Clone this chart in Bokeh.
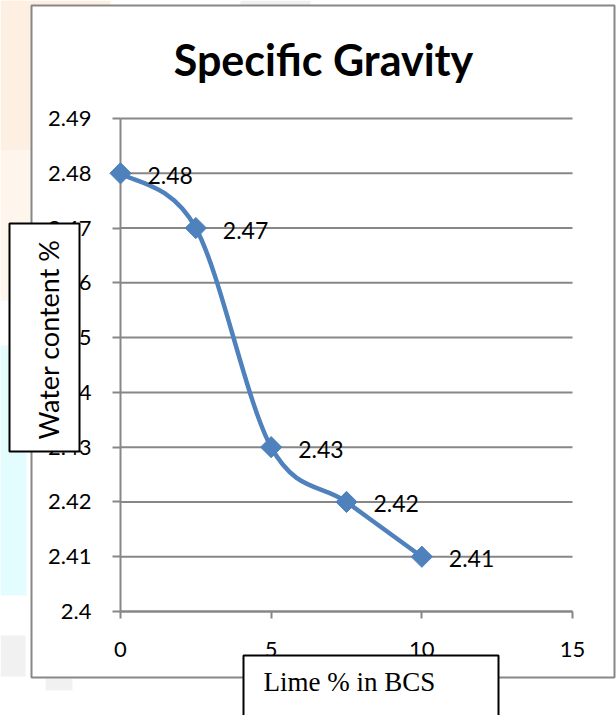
import numpy as np
from bokeh.plotting import figure
from bokeh.models import BoxAnnotation, Label, FixedTicker, Range1d, LinearAxis
from bokeh.core.properties import value
from bokeh.embed import file_html
from bokeh.resources import INLINE

# ---- data ----
lime_pct = [0, 2.5, 5, 7.5, 10]
specific_gravity = [2.48, 2.47, 2.43, 2.42, 2.41]

x_ticks = [0, 5, 10, 15]
y_ticks = [2.40, 2.41, 2.42, 2.43, 2.44, 2.45, 2.46, 2.47, 2.48, 2.49]
y_tick_labels = ["2.4", "2.41", "2.42", "2.43", "2.44", "2.45", "2.46", "2.47", "2.48", "2.49"]

title_text = "Specific Gravity"
y_label_text = "Water content %"
x_label_text = "Lime % in BCS"

# ---- layout (canvas pixels) ----
W, H = 616, 715
PL, PR, PT, PB = 120, 572, 118, 611   # pixel extent of the plotting area
BLUE = "#4F81BD"
GRID = "#878787"

x_lo, x_hi = x_ticks[0], x_ticks[-1]
y_lo, y_hi = y_ticks[0], y_ticks[-1]
kx = (x_hi - x_lo) / (PR - PL)
ky = (y_hi - y_lo) / (PB - PT)

# the frame spans the whole canvas so that titles and boxes outside the
# plotting area are not clipped
x_range = Range1d(x_lo - PL * kx, x_hi + (W - PR) * kx)
y_range = Range1d(y_lo - (H - PB) * ky, y_hi + PT * ky)


def sx(px):
    return px


def sy(py):
    return H - py


def box(l, t, r, b, **kw):
    return BoxAnnotation(left=sx(l), right=sx(r), top=sy(t), bottom=sy(b),
                         left_units="screen", right_units="screen",
                         top_units="screen", bottom_units="screen", **kw)


p = figure(width=W, height=H, x_range=x_range, y_range=y_range,
           output_backend="svg", toolbar_location=None,
           x_axis_location=None, y_axis_location=None,
           min_border=0, min_border_left=0, min_border_right=0,
           min_border_top=0, min_border_bottom=0)
p.outline_line_color = None
p.background_fill_color = "white"
p.border_fill_color = "white"
p.grid.visible = False

# faint background tints around the chart
for (l, t, r, b, c) in [
    (0, 0, 31, 150, "#fdf0e3"),
    (0, 150, 31, 300, "#fef5ec"),
    (0, 0, 110, 5, "#fdf0e3"),
    (240, 0, 310, 5, "#f0f0f0"),
    (0, 345, 26, 595, "#e3fcfe"),
    (0, 635, 25, 676, "#f1f1f1"),
    (45, 678, 72, 690, "#f1f1f1"),
]:
    p.add_layout(box(l, t, r, b, fill_color=c, fill_alpha=1, line_color=None, level="image"))

# chart area with gray border
p.add_layout(box(31, 5, 614, 677, fill_color="white", fill_alpha=1,
                 line_color=GRID, line_alpha=1, line_width=2, level="image"))

# ---- horizontal gridlines ----
p.segment(x0=[x_lo] * len(y_ticks), x1=[x_hi] * len(y_ticks), y0=y_ticks, y1=y_ticks,
          line_color=GRID, line_width=2)

# ---- axes ----
yaxis = LinearAxis(fixed_location=x_lo, bounds=(y_lo, y_hi),
                   ticker=FixedTicker(ticks=y_ticks),
                   major_label_overrides=dict(zip(y_ticks, y_tick_labels)))
xaxis = LinearAxis(fixed_location=y_lo, bounds=(x_lo, x_hi),
                   ticker=FixedTicker(ticks=x_ticks))
for ax in (xaxis, yaxis):
    ax.level = "underlay"
    ax.axis_line_color = GRID
    ax.axis_line_width = 2
    ax.major_tick_line_color = GRID
    ax.major_tick_line_width = 2
    ax.major_tick_in = 0
    ax.minor_tick_line_color = None
    ax.major_label_text_font = "Lato"
    ax.major_label_text_font_size = "22px"
    ax.major_label_text_color = "black"
xaxis.major_tick_out = 7
xaxis.major_label_standoff = 23
yaxis.major_tick_out = 8
yaxis.major_label_standoff = 21
p.add_layout(yaxis, "left")
p.add_layout(xaxis, "below")

# ---- smoothed series (Catmull-Rom style Bezier segments) ----
xs = np.asarray(lime_pct, dtype=float)
ys = np.asarray(specific_gravity, dtype=float)
n = len(xs)
qx = np.concatenate([[xs[0]], xs, [xs[-1]]])
qy = np.concatenate([[ys[0]], ys, [ys[-1]]])
cx0 = qx[1:n] + (qx[2:n + 1] - qx[0:n - 1]) / 6
cy0 = qy[1:n] + (qy[2:n + 1] - qy[0:n - 1]) / 6
cx1 = qx[2:n + 1] - (qx[3:n + 2] - qx[1:n]) / 6
cy1 = qy[2:n + 1] - (qy[3:n + 2] - qy[1:n]) / 6

p.bezier(x0=xs[:-1], y0=ys[:-1], x1=xs[1:], y1=ys[1:],
         cx0=cx0, cy0=cy0, cx1=cx1, cy1=cy1,
         line_color=BLUE, line_width=4.5)

p.scatter(lime_pct, specific_gravity, marker="square", angle=np.pi / 4, size=15,
          fill_color=BLUE, line_color=BLUE)

p.text(x=lime_pct, y=specific_gravity, text=[f"{v:.2f}" for v in specific_gravity],
       x_offset=27, y_offset=2, text_font=value("Lato"), text_font_size="23px",
       text_align="left", text_baseline="middle", text_color="black")

# ---- title ----
p.add_layout(Label(x=sx(323), y=sy(59), x_units="screen", y_units="screen",
                   text=title_text, text_align="center", text_baseline="alphabetic",
                   text_font="Lato", text_font_style="bold", text_font_size="43px",
                   text_color="black"))

# ---- boxed axis titles ----
p.add_layout(box(9, 223, 79, 451, fill_color="white", fill_alpha=1,
                 line_color="black", line_alpha=1, line_width=2))
p.add_layout(Label(x=sx(48), y=sy(339), x_units="screen", y_units="screen",
                   text=y_label_text, angle=np.pi / 2, text_align="center",
                   text_baseline="middle", text_font="Lato", text_font_size="27px",
                   text_color="black"))

p.add_layout(box(243, 655, 498, 716, fill_color="white", fill_alpha=1,
                 line_color="black", line_alpha=1, line_width=2))
p.add_layout(Label(x=sx(263), y=sy(681), x_units="screen", y_units="screen",
                   text=x_label_text, text_align="left", text_baseline="alphabetic",
                   text_font="Liberation Serif", text_font_size="27px",
                   text_color="black"))

open("out.html", "w").write(file_html(p, INLINE))
